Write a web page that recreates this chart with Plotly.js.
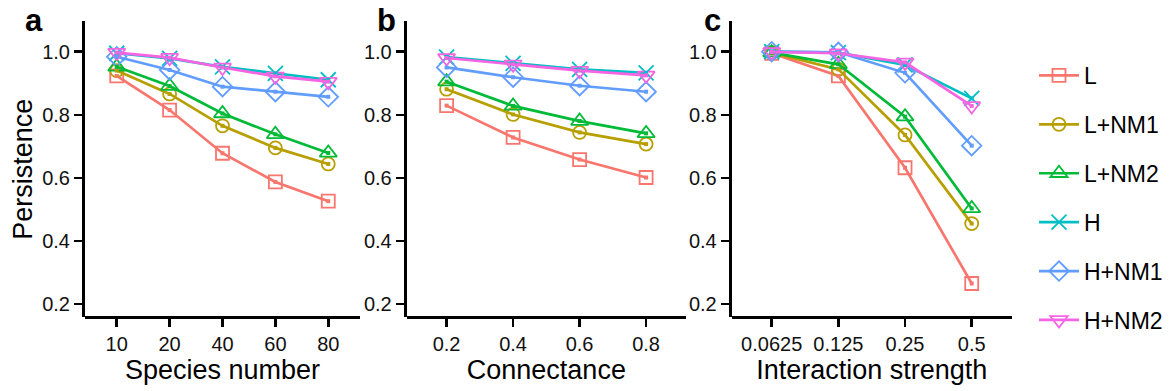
<!DOCTYPE html>
<html>
<head>
<meta charset="utf-8">
<script src="https://cdn.plot.ly/plotly-3.0.1.min.js"></script>
<style>html,body{margin:0;padding:0;background:#fff;}#chart{width:1171px;height:391px;}</style>
</head>
<body>
<div id="chart"></div>
<script>
// ---- data ----
const seriesNames = ['L', 'L+NM1', 'L+NM2', 'H', 'H+NM1', 'H+NM2'];
const speciesNumber = ['10', '20', '40', '60', '80'];
const connectance = ['0.2', '0.4', '0.6', '0.8'];
const interactionStrength = ['0.0625', '0.125', '0.25', '0.5'];

// panel a: species number
const speciesL     = [0.923, 0.815, 0.678, 0.587, 0.526];
const speciesLNM1  = [0.940, 0.866, 0.765, 0.695, 0.644];
const speciesLNM2  = [0.952, 0.891, 0.804, 0.738, 0.679];
const speciesH     = [0.995, 0.979, 0.952, 0.931, 0.911];
const speciesHNM1  = [0.984, 0.942, 0.889, 0.873, 0.857];
const speciesHNM2  = [0.997, 0.981, 0.950, 0.922, 0.905];

// panel b: connectance
const connL    = [0.829, 0.728, 0.658, 0.601];
const connLNM1 = [0.881, 0.801, 0.744, 0.707];
const connLNM2 = [0.905, 0.828, 0.780, 0.741];
const connH    = [0.983, 0.963, 0.944, 0.933];
const connHNM1 = [0.950, 0.919, 0.892, 0.873];
const connHNM2 = [0.980, 0.960, 0.940, 0.925];

// panel c: interaction strength
const strengthL    = [0.995, 0.923, 0.632, 0.265];
const strengthLNM1 = [0.997, 0.944, 0.736, 0.455];
const strengthLNM2 = [0.997, 0.960, 0.794, 0.503];
const strengthH    = [1.000, 0.997, 0.958, 0.852];
const strengthHNM1 = [1.000, 0.998, 0.933, 0.702];
const strengthHNM2 = [0.999, 0.995, 0.966, 0.828];

// ---- styling ----
const colors = ['#F8766D', '#B79F00', '#00BA38', '#00BFC4', '#619CFF', '#F564E3'];
const symbols = ['square-open', 'circle-open', 'triangle-up-open', 'x-thin-open', 'diamond-open', 'triangle-down-open'];
const sizes = [13, 13, 15, 15, 15, 15];

const panels = [
  {xa: 'x',  ya: 'y',  cats: speciesNumber, vals: [speciesL, speciesLNM1, speciesLNM2, speciesH, speciesHNM1, speciesHNM2]},
  {xa: 'x2', ya: 'y2', cats: connectance, vals: [connL, connLNM1, connLNM2, connH, connHNM1, connHNM2]},
  {xa: 'x3', ya: 'y3', cats: interactionStrength, vals: [strengthL, strengthLNM1, strengthLNM2, strengthH, strengthHNM1, strengthHNM2]}
];

const traces = [];
panels.forEach((p, pi) => {
  seriesNames.forEach((name, si) => {
    traces.push({
      type: 'scatter', mode: 'lines+markers',
      x: p.cats, y: p.vals[si], xaxis: p.xa, yaxis: p.ya,
      name: name, legendgroup: name, showlegend: pi === 0,
      line: {color: colors[si], width: 2.7},
      marker: {symbol: symbols[si], size: sizes[si], color: colors[si], line: {width: 1.8, color: colors[si]}},
      cliponaxis: false
    });
  });
  seriesNames.forEach((name, si) => {
    traces.push({
      type: 'scatter', mode: 'markers',
      x: p.cats, y: p.vals[si], xaxis: p.xa, yaxis: p.ya,
      name: name, legendgroup: name, showlegend: false, hoverinfo: 'skip',
      marker: {symbol: 'square', size: 4, color: colors[si]},
      cliponaxis: false
    });
  });
});

const W = 1171, H = 391;
const yDom = [(H - 317.3) / H, (H - 21) / H];
const font = 'Liberation Sans, Arial, Helvetica, sans-serif';

function xAxis(dom, cats, title) {
  return {
    domain: dom, type: 'category', range: [-0.6, cats.length - 0.4],
    showline: true, linecolor: '#000', linewidth: 3, mirror: false,
    ticks: 'outside', ticklen: 8, tickwidth: 2.5, tickcolor: '#000',
    showgrid: false, zeroline: false, fixedrange: true,
    tickfont: {family: font, size: 20, color: '#111'},
    title: {text: title, font: {family: font, size: 27, color: '#000'}, standoff: 5},
    anchor: 'free', position: yDom[0]
  };
}
function yAxis(anchor, withTitle) {
  return {
    domain: yDom, range: [0.1578, 1.0973], anchor: anchor,
    tickvals: [0.2, 0.4, 0.6, 0.8, 1.0], ticktext: ['0.2', '0.4', '0.6', '0.8', '1.0'],
    showline: true, linecolor: '#000', linewidth: 3,
    ticks: 'outside', ticklen: 8, tickwidth: 2.5, tickcolor: '#000',
    showgrid: false, zeroline: false, fixedrange: true,
    tickfont: {family: font, size: 20, color: '#111'},
    title: withTitle ? {text: 'Persistence', font: {family: font, size: 27, color: '#000'}, standoff: 2} : {text: ''}
  };
}

const layout = {
  width: W, height: H,
  margin: {l: 0, r: 0, t: 0, b: 0},
  paper_bgcolor: '#fff', plot_bgcolor: '#fff',
  font: {family: font},
  xaxis:  xAxis([85 / W, 360 / W], speciesNumber, 'Species number'),
  xaxis2: xAxis([406.7 / W, 686 / W], connectance, 'Connectance'),
  xaxis3: xAxis([731.7 / W, 1011.7 / W], interactionStrength, 'Interaction strength'),
  yaxis:  yAxis('x', true),
  yaxis2: yAxis('x2', false),
  yaxis3: yAxis('x3', false),
  showlegend: true,
  legend: {
    x: 1034 / W, xanchor: 'left', y: 1 - 54 / H, yanchor: 'top',
    font: {family: font, size: 23, color: '#000'},
    traceorder: 'grouped', tracegroupgap: 16,
    bgcolor: 'rgba(0,0,0,0)', itemwidth: 40
  },
  annotations: [
    {text: '<b>a</b>', x: 33.5 / W, y: 1 - 40 / H, xref: 'paper', yref: 'paper', xanchor: 'center', yanchor: 'bottom', showarrow: false, font: {family: font, size: 31, color: '#000'}},
    {text: '<b>b</b>', x: 386 / W, y: 1 - 40 / H, xref: 'paper', yref: 'paper', xanchor: 'center', yanchor: 'bottom', showarrow: false, font: {family: font, size: 31, color: '#000'}},
    {text: '<b>c</b>', x: 712 / W, y: 1 - 40 / H, xref: 'paper', yref: 'paper', xanchor: 'center', yanchor: 'bottom', showarrow: false, font: {family: font, size: 31, color: '#000'}}
  ]
};

Plotly.newPlot('chart', traces, layout, {displayModeBar: false, staticPlot: true});
</script>
</body>
</html>
